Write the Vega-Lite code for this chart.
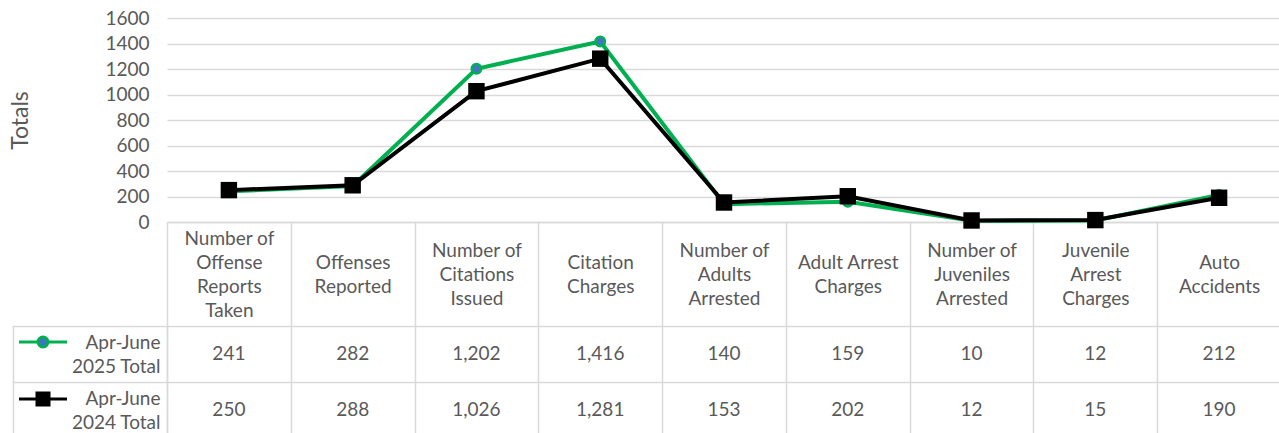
{
  "$schema": "https://vega.github.io/schema/vega-lite/v6.json",
  "background": "white",
  "padding": {"left": 9, "top": 9, "right": 0, "bottom": -6},
  "bounds": "flush",
  "spacing": 104,
  "config": {
    "view": {"stroke": null},
    "font": "Lato",
    "axis": {"labelFont": "Lato", "titleFont": "Lato", "labelOverlap": false, "labelSeparation": 0}
  },
  "datasets": {
    "d": [
      {"category": "Number of\nOffense\nReports\nTaken", "series": "Apr-June 2025 Total", "value": 241},
      {"category": "Offenses\nReported", "series": "Apr-June 2025 Total", "value": 282},
      {"category": "Number of\nCitations\nIssued", "series": "Apr-June 2025 Total", "value": 1202},
      {"category": "Citation\nCharges", "series": "Apr-June 2025 Total", "value": 1416},
      {"category": "Number of\nAdults\nArrested", "series": "Apr-June 2025 Total", "value": 140},
      {"category": "Adult Arrest\nCharges", "series": "Apr-June 2025 Total", "value": 159},
      {"category": "Number of\nJuveniles\nArrested", "series": "Apr-June 2025 Total", "value": 10},
      {"category": "Juvenile\nArrest\nCharges", "series": "Apr-June 2025 Total", "value": 12},
      {"category": "Auto\nAccidents", "series": "Apr-June 2025 Total", "value": 212},
      {"category": "Number of\nOffense\nReports\nTaken", "series": "Apr-June 2024 Total", "value": 250},
      {"category": "Offenses\nReported", "series": "Apr-June 2024 Total", "value": 288},
      {"category": "Number of\nCitations\nIssued", "series": "Apr-June 2024 Total", "value": 1026},
      {"category": "Citation\nCharges", "series": "Apr-June 2024 Total", "value": 1281},
      {"category": "Number of\nAdults\nArrested", "series": "Apr-June 2024 Total", "value": 153},
      {"category": "Adult Arrest\nCharges", "series": "Apr-June 2024 Total", "value": 202},
      {"category": "Number of\nJuveniles\nArrested", "series": "Apr-June 2024 Total", "value": 12},
      {"category": "Juvenile\nArrest\nCharges", "series": "Apr-June 2024 Total", "value": 15},
      {"category": "Auto\nAccidents", "series": "Apr-June 2024 Total", "value": 190}
    ]
  },
  "vconcat": [
    {
      "width": 1114,
      "height": 204,
      "data": {"name": "d"},
      "encoding": {
        "x": {
          "field": "category", "type": "nominal", "sort": null,
          "scale": {"type": "band", "paddingInner": 0, "paddingOuter": 0},
          "axis": {
            "title": null, "orient": "bottom", "grid": false,
            "domain": true, "domainColor": "#D9D9D9", "domainWidth": 1.5,
            "ticks": true, "tickBand": "extent", "tickSize": 104, "tickColor": "#D9D9D9", "tickWidth": 1.5,
            "labelAngle": 0, "labelExpr": "split(datum.label, '\\n')",
            "labelAlign": "center", "labelBaseline": "middle",
            "labelPadding": {"condition": [{"test": "length(split(datum.value, '\\n')) == 4", "value": -88}, {"test": "length(split(datum.value, '\\n')) == 3", "value": -76}], "value": -64},
            "labelFontSize": 19, "labelColor": "#595959", "labelLineHeight": 24,
            "labelLimit": 0, "labelOverlap": false
          }
        }
      },
      "layer": [
        {
          "transform": [{"filter": "datum.series === 'Apr-June 2025 Total'"}],
          "mark": {"type": "line", "strokeWidth": 4, "color": "#00B050"},
          "encoding": {
            "y": {
              "field": "value", "type": "quantitative",
              "scale": {"domain": [0, 1600], "nice": false},
              "axis": {
                "orient": "left",
                "title": "Totals", "titleFontSize": 23, "titleFontWeight": "normal", "titleColor": "#595959",
                "titleX": -135, "titleY": 102,
                "values": [0, 400, 800, 1200, 1600], "format": "d",
                "labelOverlap": false, "labelBound": false,
                "domain": false, "ticks": false, "grid": true, "gridColor": "#D9D9D9", "gridWidth": 1.5,
                "labelFontSize": 19, "labelColor": "#595959", "labelPadding": 18
              }
            }
          }
        },
        {
          "transform": [{"filter": "datum.series === 'Apr-June 2025 Total'"}],
          "mark": {"type": "point", "shape": "circle", "filled": true, "fill": "#4472C4", "stroke": "#00B050", "strokeWidth": 2.5, "size": 90, "opacity": 1},
          "encoding": {"y": {"field": "value", "type": "quantitative", "axis": null}}
        },
        {
          "transform": [{"filter": "datum.series === 'Apr-June 2024 Total'"}],
          "mark": {"type": "line", "strokeWidth": 4, "color": "#000000"},
          "encoding": {
            "y": {
              "field": "value", "type": "quantitative",
              "axis": {
                "orient": "left", "title": null,
                "values": [200, 600, 1000, 1400], "format": "d",
                "labelOverlap": false, "labelBound": false,
                "domain": false, "ticks": false, "grid": true, "gridColor": "#D9D9D9", "gridWidth": 1.5,
                "labelFontSize": 19, "labelColor": "#595959", "labelPadding": 18
              }
            }
          }
        },
        {
          "transform": [{"filter": "datum.series === 'Apr-June 2024 Total'"}],
          "mark": {"type": "point", "shape": "square", "filled": true, "color": "#000000", "size": 270, "opacity": 1},
          "encoding": {"y": {"field": "value", "type": "quantitative", "axis": null}}
        },
        {
          "transform": [{"filter": "false"}],
          "mark": {"type": "point", "filled": true, "opacity": 1, "strokeWidth": 3},
          "encoding": {
            "y": {"field": "value", "type": "quantitative", "axis": null},
            "shape": {
              "field": "series", "type": "nominal",
              "scale": {"domain": ["Apr-June 2025 Total", "Apr-June 2024 Total"], "range": ["M-2.4,0H-0.5M0.5,0H2.4M0.5,0A0.5,0.5 0 1 1 -0.5,0A0.5,0.5 0 1 1 0.5,0Z", "M-2.4,0H-0.6M0.6,0H2.4M-0.6,-0.6H0.6V0.6H-0.6Z"]},
              "legend": {
                "orient": "none", "legendX": -135.5, "legendY": 312.5, "title": null,
                "direction": "vertical", "padding": 0, "offset": 0, "rowPadding": 33,
                "symbolSize": 400, "symbolStrokeWidth": 3, "symbolOpacity": 1, "labelExpr": "''"
              }
            },
            "fill": {
              "field": "series", "type": "nominal",
              "scale": {"domain": ["Apr-June 2025 Total", "Apr-June 2024 Total"], "range": ["#4472C4", "#000000"]},
              "legend": {
                "orient": "none", "legendX": -135.5, "legendY": 312.5, "title": null,
                "direction": "vertical", "padding": 0, "offset": 0, "rowPadding": 33,
                "symbolSize": 400, "symbolStrokeWidth": 3, "symbolOpacity": 1, "labelExpr": "''"
              }
            },
            "stroke": {
              "field": "series", "type": "nominal",
              "scale": {"domain": ["Apr-June 2025 Total", "Apr-June 2024 Total"], "range": ["#00B050", "#000000"]},
              "legend": {
                "orient": "none", "legendX": -135.5, "legendY": 312.5, "title": null,
                "direction": "vertical", "padding": 0, "offset": 0, "rowPadding": 33,
                "symbolSize": 400, "symbolStrokeWidth": 3, "symbolOpacity": 1, "labelExpr": "''"
              }
            }
          }
        }
      ],
      "resolve": {"axis": {"y": "independent"}}
    },
    {
      "width": 1114,
      "height": 112,
      "data": {"name": "d"},
      "layer": [
        {
          "mark": {"type": "text", "fontSize": 19, "color": "#595959", "font": "Lato"},
          "encoding": {
            "x": {
              "field": "category", "type": "nominal", "sort": null,
              "scale": {"type": "band", "paddingInner": 0, "paddingOuter": 0},
              "axis": {"orient": "bottom", "title": null, "grid": true, "gridColor": "#D9D9D9", "gridWidth": 1.5, "tickBand": "extent", "domain": false, "ticks": false, "labels": false}
            },
            "y": {
              "field": "series", "type": "nominal", "sort": ["Apr-June 2025 Total", "Apr-June 2024 Total"],
              "scale": {"type": "band", "paddingInner": 0, "paddingOuter": 0},
              "axis": {
                "orient": "left", "title": null,
                "grid": true, "gridColor": "#D9D9D9", "gridWidth": 1.5, "tickBand": "extent",
                "domain": true, "domainColor": "#D9D9D9", "domainWidth": 1.5,
                "ticks": true, "tickSize": 155, "tickColor": "#D9D9D9", "tickWidth": 1.5,
                "labelExpr": "[substring(datum.label, 0, 8), substring(datum.label, 9)]",
                "labelAlign": "right", "labelBaseline": "middle", "labelPadding": -148, "labelOffset": -12,
                "labelFontSize": 19, "labelColor": "#595959", "labelLineHeight": 24, "labelLimit": 0
              }
            },
            "text": {"field": "value", "type": "quantitative", "format": ","}
          }
        },
        {
          "mark": {"type": "text", "opacity": 0},
          "encoding": {
            "y": {
              "field": "series", "type": "nominal", "sort": ["Apr-June 2025 Total", "Apr-June 2024 Total"],
              "axis": {"orient": "left", "offset": 154, "title": null, "labels": false, "ticks": false, "grid": false, "domain": true, "domainColor": "#D9D9D9", "domainWidth": 1.5}
            },
            "text": {"value": ""}
          }
        }
      ],
      "resolve": {"axis": {"y": "independent"}}
    }
  ]
}
